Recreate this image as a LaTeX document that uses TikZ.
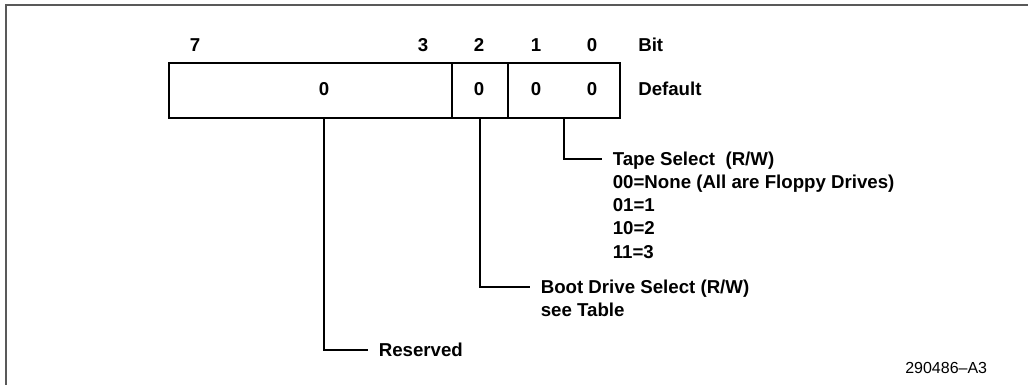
\documentclass[tikz,border=0pt]{standalone}
\usepackage{fontspec}
\setmainfont{Liberation Sans}
\usetikzlibrary{positioning}

\begin{document}
\begin{tikzpicture}[x=0.75pt,y=-0.75pt,
  cell/.style={draw, line width=1.5pt, anchor=north west, minimum height=41.25pt, inner sep=0pt},
  bitno/.style={font=\bfseries\fontsize{14}{17}\selectfont},
  txt/.style={font=\bfseries\fontsize{14}{17}\selectfont, anchor=west, inner xsep=7.9pt, inner ysep=0pt, text height=10pt, text depth=0pt},
  conn/.style={line width=1.5pt}]
  \useasboundingbox (0,0) rectangle (1028,385);

  % Frame
  \draw[line width=1.5pt, black!65] (6,385) -- (6,5) -- (1028,5);

  % Bit numbers
  \node[bitno] (bSeven) at (195,45) {7};
  \node[bitno] (bThree) at (423,45) {3};
  \node[bitno] (bTwo) at (479,45) {2};
  \node[bitno] (bOne) at (536,45) {1};
  \node[bitno] (bZero) at (592,45) {0};
  \node[txt, inner xsep=0pt] (bitHdr) at (638,45) {Bit};

  % Register cells
  \node[cell, minimum width=212.25pt] (fld) at (168,62) {};
  \node[cell, minimum width=42pt] (bitTwo) at (451,62) {};
  \node[cell, minimum width=84pt] (bitsLow) at (507,62) {};

  % Default values
  \node[bitno] (vRsv) at (324,89) {0};
  \node[bitno] (vTwo) at (479,89) {0};
  \node[bitno] (vOne) at (536,89) {0};
  \node[bitno] (vZero) at (592,89) {0};
  \node[txt, inner xsep=0pt] (dflt) at (638,89) {Default};

  % Field descriptions
  \node[txt] (tape) at (602,159) {Tape Select\ \ (R/W)};
  \node[txt] (tapeA) at (602,182) {00=None (All are Floppy Drives)};
  \node[txt] (tapeB) at (602,205) {01=1};
  \node[txt] (tapeC) at (602,228) {10=2};
  \node[txt] (tapeD) at (602,252) {11=3};
  \node[txt] (boot) at (530,287) {Boot Drive Select (R/W)};
  \node[txt] (bootA) at (530,310) {see Table};
  \node[txt] (resv) at (368,350) {Reserved};

  % Leader lines
  \draw[conn] (vRsv |- fld.south) |- (resv.west);
  \draw[conn] (bitTwo.south) |- (boot.west);
  \draw[conn] (bitsLow.south) |- (tape.west);

  % Figure number
  \node[anchor=west, inner sep=0pt, font=\fontsize{12}{14}\selectfont] (figNo) at (905,368) {290486–A3};
\end{tikzpicture}
\end{document}
